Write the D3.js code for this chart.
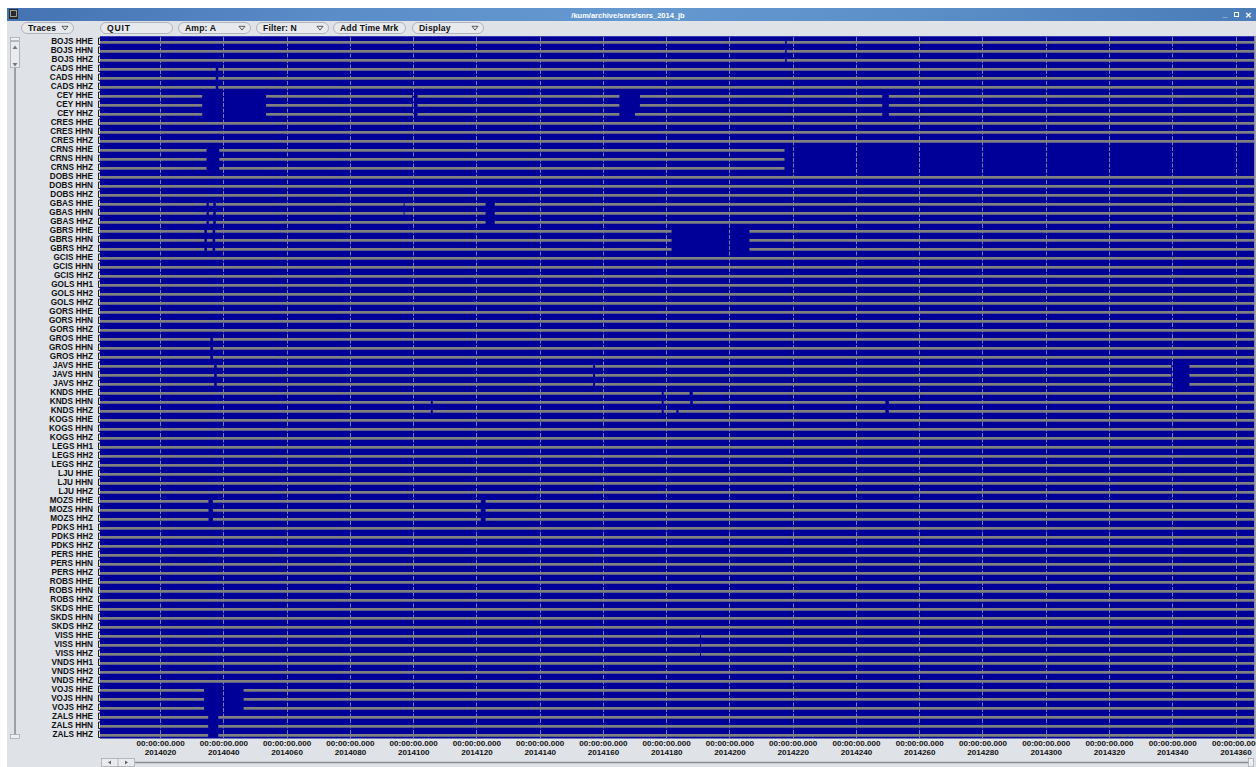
<!DOCTYPE html>
<html><head><meta charset="utf-8">
<script src="https://cdn.jsdelivr.net/npm/d3@7"></script>
<style>
body{margin:0;background:#fff;}
svg{display:block;font-family:"Liberation Sans",Arial,sans-serif;}
</style>
</head><body>
<svg id="c" width="1256" height="767"></svg>
<script>
// ---------------- data ----------------
const stations = ["BOJS","CADS","CEY","CRES","CRNS","DOBS","GBAS","GBRS","GCIS","GOLS","GORS","GROS","JAVS","KNDS","KOGS","LEGS","LJU","MOZS","PDKS","PERS","ROBS","SKDS","VISS","VNDS","VOJS","ZALS"];
const stationsH12 = ["GOLS","LEGS","PDKS","VNDS"];
const compsENZ = ["HHE","HHN","HHZ"];
const comps12Z = ["HH1","HH2","HHZ"];
const yearPrefix = "2014";
const dayRange = [1, 366];
const tickDays = [20,40,60,80,100,120,140,160,180,200,220,240,260,280,300,320,340,360];
const tickTime = "00:00:00.000";
// data gaps: station, components ("*" = all), start day, end day
const gaps = [
  ["BOJS","*",217.6,218.1],
  ["CADS","*",37.6,38.4],
  ["CEY","HHE HHN",33.3,53.5],["CEY","HHE HHN",99.7,101.4],["CEY","HHE HHN",165.2,171.7],
  ["CEY","HHZ",33.3,53.5],["CEY","HHZ",100.0,101.4],["CEY","HHZ",165.2,170.1],
  ["CEY","*",248.3,250.4],
  ["CRNS","*",34.7,38.7],["CRNS","*",217.4,366],
  ["GBAS","*",34.7,35.4],["GBAS","*",36.8,37.6],["GBAS","HHE HHN",97.0,97.3],["GBAS","*",122.9,125.8],
  ["GBRS","*",34.0,34.8],["GBRS","*",36.6,37.4],["GBRS","*",181.7,206.3],
  ["GROS","*",35.9,36.7],
  ["JAVS","*",37.1,37.9],["JAVS","*",156.9,157.5],["JAVS","*",339.7,345.4],
  ["KNDS","HHE",187.4,188.4],["KNDS","HHN",187.6,188.4],
  ["KNDS","HHN HHZ",105.6,106.2],["KNDS","*",178.6,179.2],["KNDS","HHZ",183.2,183.9],["KNDS","HHN HHZ",249.3,250.4],
  ["MOZS","*",35.3,36.7],["MOZS","*",121.4,122.9],
  ["VISS","*",190.7,191.0],
  ["VOJS","*",33.9,46.4],
  ["ZALS","*",35.2,38.4]
];
const titleText = "/kum/archive/snrs/snrs_2014_jb";
const buttonLabels = ["Traces","QUIT","Amp: A","Filter: N","Add Time Mrk","Display"];
const buttonMenu = [true,false,true,true,false,true];

// ---------------- build ----------------
const channels = stations.flatMap(s => (stationsH12.includes(s) ? comps12Z : compsENZ).map(c => s + " " + c));

function segmentsFor(ch){
  const [st, comp] = ch.split(" ");
  const g = gaps.filter(d => d[0] === st && (d[1] === "*" || d[1].split(" ").includes(comp)))
                .map(d => [d[2], d[3]]).sort((a,b)=>a[0]-b[0]);
  const segs = []; let cur = dayRange[0];
  g.forEach(([a,b]) => { if (a > cur) segs.push([cur, a]); cur = Math.max(cur, b); });
  if (cur < dayRange[1]) segs.push([cur, dayRange[1]]);
  return segs;
}

const svg = d3.select("#c");
const W = 1256, H = 767;
const defs = svg.append("defs");
const grad = defs.append("linearGradient").attr("id","tb");
[[0,"#4472b2"],[0.25,"#5a8cc8"],[0.5,"#6699d0"],[0.75,"#5b8dc7"],[1,"#4a7cb8"]]
  .forEach(([o,c]) => grad.append("stop").attr("offset",o).attr("stop-color",c));

// window background
svg.append("rect").attr("x",7).attr("y",8).attr("width",W-7).attr("height",H-8).attr("fill","#dfe2e7");
// title bar
svg.append("rect").attr("x",7).attr("y",8).attr("width",W-7).attr("height",13).attr("fill","url(#tb)");
svg.append("rect").attr("x",9).attr("y",9).attr("width",9).attr("height",10).attr("fill","#2a2a2a");
svg.append("rect").attr("x",10.5).attr("y",10.5).attr("width",6).attr("height",6).attr("fill","none").attr("stroke","#bbb").attr("stroke-width",0.8);
svg.append("text").attr("x",628).attr("y",17.5).attr("text-anchor","middle").attr("fill","#fff")
  .attr("font-size",7.5).attr("font-weight","bold").text(titleText);
svg.append("text").attr("x",1225).attr("y",17).attr("fill","#fff").attr("font-size",8).attr("font-weight","bold").attr("text-anchor","middle").text("_");
svg.append("rect").attr("x",1234.5).attr("y",12.5).attr("width",4).attr("height",4).attr("fill","none").attr("stroke","#fff").attr("stroke-width",1);
svg.append("text").attr("x",1248).attr("y",17.5).attr("fill","#fff").attr("font-size",8).attr("font-weight","bold").attr("text-anchor","middle").text("✕");

// toolbar buttons
const btnX = [21,100,178,256,333,412];
const btnW = [52,72,72,72,72,71];
const bg = svg.append("g");
buttonLabels.forEach((lab,i) => {
  const g = bg.append("g").attr("transform",`translate(${btnX[i]},22.5)`);
  g.append("rect").attr("x",0.5).attr("y",0).attr("width",btnW[i]).attr("height",11).attr("rx",5.5)
    .attr("fill","#e7e9ed").attr("stroke","#a3a7ae").attr("stroke-width",0.8);
  g.append("text").attr("x",7).attr("y",8.6).attr("font-size",8.6).attr("font-weight","bold")
    .attr("fill","#111").attr("letter-spacing", lab==="QUIT"?0.8:0.15).text(lab);
  if (buttonMenu[i]) {
    const tx = btnW[i] - 8;
    g.append("path").attr("d",`M${tx-3},3.8 L${tx+3},3.8 L${tx},7.6 Z`).attr("fill","none").attr("stroke","#222").attr("stroke-width",0.7);
  }
});

// left scroll bar
const ls = svg.append("g");
ls.append("rect").attr("x",10.5).attr("y",37.5).attr("width",9).attr("height",3).attr("fill","#eef0f3").attr("stroke","#a0a4aa").attr("stroke-width",0.7);
ls.append("rect").attr("x",10.5).attr("y",41.5).attr("width",9).attr("height",26).attr("fill","#e9ebef").attr("stroke","#a0a4aa").attr("stroke-width",0.7);
ls.append("path").attr("d","M12.5,49 L17.5,49 L15,45.5 Z").attr("fill","#777");
ls.append("path").attr("d","M12.5,63 L17.5,63 L15,66.5 Z").attr("fill","#777");
ls.append("line").attr("x1",15).attr("x2",15).attr("y1",68).attr("y2",735).attr("stroke","#8b9096").attr("stroke-width",1.6);
ls.append("rect").attr("x",10.5).attr("y",734.5).attr("width",9).attr("height",4).attr("fill","#eef0f3").attr("stroke","#a0a4aa").attr("stroke-width",0.7);

// scales
const x = d3.scaleLinear().domain(dayRange).range([100, 1254.5]);
const y = d3.scaleBand().domain(channels).range([36.5, 738.5]);

// plot background
svg.append("rect").attr("x",x(dayRange[0])).attr("y",36).attr("width",x(dayRange[1])-x(dayRange[0])).attr("height",738.5-36)
  .attr("fill","#000099");
svg.append("line").attr("x1",100).attr("x2",1254.5).attr("y1",36.5).attr("y2",36.5).attr("stroke","#3a3ab0").attr("stroke-width",1);

// gridlines
svg.append("g").selectAll("line").data(tickDays).join("line")
  .attr("x1",d=>Math.round(x(d))+0.5).attr("x2",d=>Math.round(x(d))+0.5)
  .attr("y1",37).attr("y2",738.5)
  .attr("stroke","#7c7ca4").attr("stroke-width",1).attr("stroke-dasharray","4,1.5");

// data segments
const rows = svg.append("g");
channels.forEach(ch => {
  rows.append("g").selectAll("rect").data(segmentsFor(ch)).join("rect")
    .attr("x", d => x(d[0])).attr("width", d => Math.max(0, x(d[1]) - x(d[0])))
    .attr("y", y(ch) + 4.5).attr("height", 2.7).attr("fill","#808080");
});

// right border
svg.append("rect").attr("x",1254.5).attr("y",36).attr("width",1.5).attr("height",703).attr("fill","#9a9ea4");

// left axis with channel labels
const ya = svg.append("g").attr("transform","translate(100,0)")
  .call(d3.axisLeft(y).tickSize(0).tickPadding(7));
ya.select(".domain").remove();
ya.selectAll("text").attr("font-size",8.2).attr("font-weight","bold").attr("fill","#111")
  .attr("font-family","'Liberation Sans',Arial,sans-serif").attr("dy","0.38em");
// brackets
svg.append("g").selectAll("path").data(channels).join("path")
  .attr("d", d => `M100,${y(d)+1.5} H98.5 V${y(d)+8} H100`)
  .attr("fill","none").attr("stroke","#222").attr("stroke-width",1);

// bottom axis
const xa = svg.append("g").attr("transform","translate(0,738.5)")
  .call(d3.axisBottom(x).tickValues(tickDays).tickSize(0).tickPadding(0).tickFormat(d => ""));
xa.select(".domain").remove();
xa.selectAll(".tick text").each(function(d){
  const t = d3.select(this).attr("y",0).attr("dy",null)
    .attr("font-size",8.1).attr("font-weight","bold").attr("fill","#111")
    .attr("font-family","'Liberation Sans',Arial,sans-serif");
  t.append("tspan").attr("x",0).attr("y",7.3).text(tickTime);
  t.append("tspan").attr("x",0).attr("y",16.8).text(yearPrefix + String(d).padStart(3,"0"));
});

// bottom scroll bar
const bs = svg.append("g");
bs.append("rect").attr("x",101.5).attr("y",758.5).attr("width",33).attr("height",8).attr("fill","#e9ebef").attr("stroke","#a0a4aa").attr("stroke-width",0.7);
bs.append("line").attr("x1",118).attr("x2",118).attr("y1",758.5).attr("y2",766.5).attr("stroke","#a0a4aa").attr("stroke-width",0.7);
bs.append("path").attr("d","M111,760.5 L111,764.5 L108,762.5 Z").attr("fill","#666");
bs.append("path").attr("d","M125,760.5 L125,764.5 L128,762.5 Z").attr("fill","#666");
bs.append("line").attr("x1",135).attr("x2",1249).attr("y1",762.5).attr("y2",762.5).attr("stroke","#8b9096").attr("stroke-width",1.6);
bs.append("rect").attr("x",1248.5).attr("y",758.5).attr("width",5).attr("height",8).attr("fill","#eef0f3").attr("stroke","#a0a4aa").attr("stroke-width",0.7);
</script>
</body></html>
